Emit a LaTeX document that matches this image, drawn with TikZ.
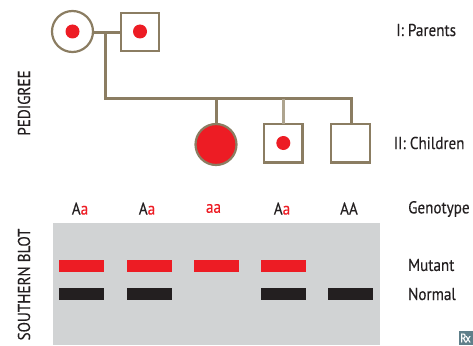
\documentclass[tikz,border=0pt]{standalone}
\usepackage{fontspec}
\setmainfont[FakeStretch=0.88,FakeBold=0.25]{PT Sans}
\definecolor{linebrown}{HTML}{8B7D62}
\definecolor{lightbrown}{HTML}{AEA48F}
\definecolor{markred}{HTML}{ED1C24}
\definecolor{gelgray}{HTML}{D1D3D4}
\definecolor{bandblack}{HTML}{231F20}
\definecolor{rxblue}{HTML}{5F7F8A}
\tikzset{
  female/.style={draw=linebrown,fill=white,shape=circle,line width=2.2pt,minimum size=41pt,inner sep=0pt,outer sep=0pt},
  male/.style={draw=linebrown,fill=white,shape=rectangle,line width=2.2pt,minimum size=38.5pt,inner sep=0pt,outer sep=0pt},
  carrier/.style={fill=markred,shape=circle,minimum size=14pt,inner sep=0pt,outer sep=0pt},
  pedline/.style={draw=linebrown,line width=3pt},
  band/.style={shape=rectangle,minimum width=45pt,minimum height=12pt,inner sep=0pt,outer sep=0pt},
  label/.style={text=bandblack,font=\fontsize{17.2}{19}\selectfont,inner sep=0pt},
  sidelabel/.style={label,anchor=west},
  vertlabel/.style={label,rotate=90},
}
\begin{document}
\begin{tikzpicture}[x=1pt,y=-1pt]
\useasboundingbox (0,0) rectangle (473,345);
% pedigree
\node [female,name=mother] at (72.5,31.5){};
\node [male,name=father] at (140,32){};
\node [female,name=girl,fill=markred] at (216,144.5){};
\node [male,name=boy1] at (283.3,143.3){};
\node [male,name=boy2] at (350.5,143.3){};
\node [carrier,name=dot1] at (72.5,31.5){};
\node [carrier,name=dot2] at (140,31.5){};
\node [carrier,name=dot3] at (283.3,143){};
\coordinate (mate) at (105.5,32.5);
\coordinate (corner) at (105.5,98.5);
\coordinate (end) at (351,98.5);
\draw[pedline] (mother.east|-mate)--(father.west|-mate);
\draw[pedline,line join=miter] (mate)--(corner)--(end)--(end|-boy2.north);
\draw[pedline] (girl.north|-corner)--(girl.north);
\draw[pedline,draw=lightbrown] (boy1.north|-corner)--(boy1.north);
% blot
\node [fill=gelgray,name=gel,minimum width=327pt,minimum height=122pt,inner sep=0pt,outer sep=0pt] at (216.5,284){};
\node [band,fill=markred,name=m1] at (81.5,266){};
\node [band,fill=markred,name=m2] at (149.5,266){};
\node [band,fill=markred,name=m3] at (216.5,266){};
\node [band,fill=markred,name=m4] at (283.5,266){};
\node [band,fill=bandblack,name=n1] at (81.5,294){};
\node [band,fill=bandblack,name=n2] at (149.5,294){};
\node [band,fill=bandblack,name=n4] at (283.5,294){};
\node [band,fill=bandblack,name=n5] at (350.5,294){};
% labels
\node [label,name=g1] at (80,208.5){A\textcolor{markred}{a}};
\node [label,name=g2] at (147,208.5){A\textcolor{markred}{a}};
\node [label,name=g3,text=markred] at (213.5,208.5){aa};
\node [label,name=g4] at (282,208.5){A\textcolor{markred}{a}};
\node [label,name=g5] at (349,208.5){AA};
\node [sidelabel,name=parents] at (396,30){I: Parents};
\node [sidelabel,name=children] at (393.5,143){II: Children};
\node [sidelabel,name=genotype] at (408,209){Genotype};
\node [sidelabel,name=mutant] at (408,265){Mutant};
\node [sidelabel,name=normal] at (408,294){Normal};
\node [vertlabel,name=pedigree] at (24,103){PEDIGREE};
\node [vertlabel,name=southern] at (24,284.5){SOUTHERN BLOT};
\node [fill=rxblue,text=white,name=rx,minimum size=14pt,inner sep=0pt,font=\fontsize{12.5}{12.5}\selectfont] at (465.5,338){R\kern-1.5pt x};
\end{tikzpicture}
\end{document}
